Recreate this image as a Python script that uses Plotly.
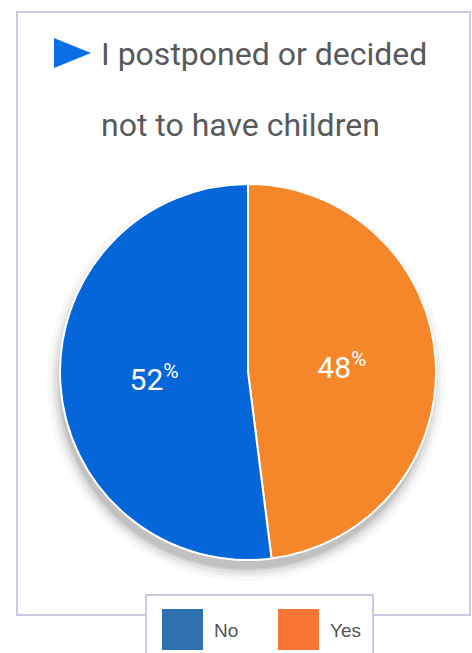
import plotly.graph_objects as go

labels = ["Yes", "No"]
values = [48, 52]
slice_colors = ["#f6862a", "#0566da"]
legend_labels = ["No", "Yes"]
legend_colors = ["#2f70b1", "#f87533"]
title_lines = ["I postponed or decided", "not to have children"]

W, H = 472, 653
def px(x):
    return x / W
def py(y):
    return 1 - y / H

NARROW = "Roboto, Liberation Sans Narrow, sans-serif"

fig = go.Figure()
fig.add_trace(go.Pie(
    labels=labels, values=values, sort=False, direction="clockwise", rotation=0,
    marker=dict(colors=slice_colors, line=dict(color="white", width=2)),
    texttemplate="%{value}<sup>%</sup>", textposition="inside",
    insidetextorientation="horizontal",
    textfont=dict(family=NARROW, size=30, color="white"),
    domain=dict(x=[px(60), px(436)], y=[py(560), py(184)]),
    showlegend=False, hoverinfo="label+percent",
))

shapes = []
shapes.append(dict(type="rect", xref="paper", yref="paper", x0=px(17), x1=px(470), y0=py(615), y1=py(12),
                   line=dict(color="#c9c9e3", width=2), fillcolor="rgba(0,0,0,0)", layer="below"))
for dr, op in [(12, 0.03), (8, 0.05), (5, 0.07), (2, 0.09), (0, 0.10)]:
    cx, cy, r = 246, 382, 187 + dr
    shapes.append(dict(type="circle", xref="paper", yref="paper",
                       x0=px(cx - r), x1=px(cx + r), y0=py(cy + r), y1=py(cy - r),
                       fillcolor=f"rgba(50,50,50,{op})", line=dict(width=0), layer="below"))
shapes.append(dict(type="path", xref="paper", yref="paper",
                   path=f"M {px(54)} {py(38)} L {px(91)} {py(53)} L {px(54)} {py(68)} Z",
                   fillcolor="#0a6fe6", line=dict(width=0)))
shapes.append(dict(type="rect", xref="paper", yref="paper", x0=px(146), x1=px(373), y0=py(665), y1=py(595),
                   line=dict(color="#c9c9e3", width=2), fillcolor="white"))
leg_x = [162, 278]
for lx, c in zip(leg_x, legend_colors):
    shapes.append(dict(type="rect", xref="paper", yref="paper", x0=px(lx), x1=px(lx + 41),
                       y0=py(650), y1=py(609), fillcolor=c, line=dict(width=0)))

annotations = []
for line, yc in zip(title_lines, [54, 125]):
    annotations.append(dict(xref="paper", yref="paper", x=px(99), y=py(yc), xanchor="left", yanchor="middle",
                            text=line, showarrow=False, align="left",
                            font=dict(family=NARROW, size=32, color="#58595b")))
for lx, lab in zip(leg_x, legend_labels):
    annotations.append(dict(xref="paper", yref="paper", x=px(lx + 50), y=py(630), xanchor="left",
                            yanchor="middle", text=lab, showarrow=False,
                            font=dict(family="Liberation Sans, Arial, sans-serif", size=19, color="#555555")))

fig.update_layout(width=W, height=H, margin=dict(l=0, r=0, t=0, b=0),
                  paper_bgcolor="white", plot_bgcolor="white",
                  shapes=shapes, annotations=annotations, showlegend=False)
fig.write_html("out.html")
